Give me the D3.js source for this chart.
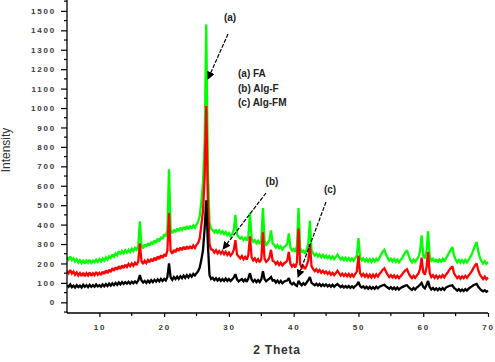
<!DOCTYPE html>
<html><head><meta charset="utf-8">
<script src="https://cdn.jsdelivr.net/npm/d3@7"></script>
<style>html,body{margin:0;padding:0;background:#fff;}svg{display:block;}</style>
</head><body>
<svg id="chart" width="495" height="362"></svg>
<script>
// 2-theta sampling grid: 5.00 .. 70.00 step 0.25
const thetaStart = 5, thetaStep = 0.25;
const xTicks = [10, 20, 30, 40, 50, 60, 70];
const yTicks = [0, 100, 200, 300, 400, 500, 600, 700, 800, 900, 1000, 1100, 1200, 1300, 1400, 1500];
const seriesNames = ["(a) FA", "(b) Alg-F", "(c) Alg-FM"];
const seriesColors = ["#00ff00", "#ff0000", "#000000"];

const FA = [
 232,220,236,218,226,210,222,205,216,202,214,200,215,204,218,203,214,206,220,208,
 222,210,226,214,231,220,236,228,246,234,251,242,262,248,264,252,268,256,270,259,
 276,264,280,270,288,417,290,278,298,286,304,292,311,298,318,306,328,314,336,325,
 350,340,372,685,368,356,374,362,380,366,384,372,388,374,392,376,394,380,396,384,
 400,415,445,520,620,820,1430,680,410,378,372,360,374,358,370,356,366,352,362,346,
 356,340,352,372,450,348,338,328,336,320,332,318,340,460,330,312,320,304,316,300,
 318,485,316,296,306,320,370,302,296,282,294,278,288,272,284,290,300,355,280,266,
 274,260,290,485,280,256,266,252,270,300,420,268,252,240,250,236,246,232,244,230,
 240,228,238,224,236,222,234,246,232,220,230,218,230,216,228,215,226,214,228,240,
 330,232,216,226,212,224,210,222,208,222,210,224,212,230,246,262,270,248,230,214,
 224,210,222,208,220,206,218,228,244,258,268,240,218,206,220,208,222,232,260,345,
 240,226,262,366,236,214,224,208,222,206,220,210,224,210,226,240,256,270,285,242,
 220,206,218,204,216,204,218,206,220,232,248,270,292,310,262,230,212,200,212,198,
 208];

const AlgF = [
 162,150,166,148,158,142,154,138,150,136,152,134,150,138,154,136,150,140,156,142,
 152,140,158,146,164,150,168,156,176,162,180,168,186,172,190,176,194,182,198,186,
 200,188,204,192,210,304,212,198,214,202,218,206,224,210,230,216,236,222,242,228,
 248,236,268,460,264,250,270,258,278,264,282,268,286,272,288,274,290,276,292,280,
 296,306,330,400,470,640,1010,520,300,272,270,256,268,252,264,250,262,248,260,244,
 256,240,250,270,320,246,236,226,238,222,234,220,244,340,232,216,226,210,222,206,
 222,360,224,208,216,230,270,214,210,196,208,192,204,190,200,206,214,260,198,184,
 194,180,206,380,196,176,186,172,190,214,300,186,172,160,170,156,166,152,162,150,
 158,146,156,142,152,140,150,162,150,138,148,136,146,134,146,132,144,132,146,158,
 240,150,136,146,132,144,130,142,128,142,130,144,132,146,156,168,175,158,142,130,
 140,128,138,126,136,124,134,144,156,164,170,150,134,124,136,126,138,148,170,230,
 156,142,176,260,150,130,140,126,138,124,136,128,140,128,142,152,166,176,185,150,
 136,124,134,122,134,124,136,126,138,148,160,176,190,200,164,142,130,120,132,118,
 128];

const AlgFM = [
 88,80,92,78,86,76,88,78,86,76,90,80,88,78,90,80,88,80,92,82,
 88,80,92,82,94,84,96,86,98,88,100,90,102,92,104,94,104,96,106,96,
 106,98,108,100,112,140,112,102,110,100,112,102,114,104,116,106,118,108,120,110,
 120,112,130,200,128,116,130,120,132,120,134,124,138,126,140,128,142,132,146,138,
 150,160,180,220,270,380,525,300,140,120,126,114,124,112,122,110,120,110,122,110,
 120,110,118,128,145,118,108,114,120,108,118,106,124,150,118,106,116,104,114,104,
 118,160,120,108,116,122,130,112,114,102,112,100,110,98,106,110,112,125,100,92,
 100,90,84,110,96,88,98,90,102,114,130,100,94,88,96,86,94,84,92,84,
 92,82,90,80,90,80,88,94,86,78,86,76,84,76,84,74,82,74,84,90,
 105,84,76,82,72,80,70,80,70,78,70,80,72,80,84,88,90,82,76,70,
 78,68,76,66,76,66,74,78,82,86,88,78,70,64,74,66,76,82,90,100,
 80,72,88,110,78,66,74,64,72,62,72,64,74,64,76,80,84,86,88,74,
 68,60,68,58,66,58,68,60,70,76,82,88,92,95,80,70,62,56,62,54,
 60];

const svg = d3.select("#chart");
const x = d3.scaleLinear().domain([5, 70]).range([67, 488]);
const y = d3.scaleLinear().domain([-55, 1556]).range([313, 0]);
const font = "'Liberation Sans', Arial, sans-serif";

const series = [FA, AlgF, AlgFM];
const line = d3.line().x((d, i) => x(thetaStart + i * thetaStep)).y(d => y(d));

svg.append("clipPath").attr("id", "clip").append("rect")
  .attr("x", 67).attr("y", 0).attr("width", 422).attr("height", 313);

const plot = svg.append("g").attr("clip-path", "url(#clip)");
series.forEach((s, k) => {
  plot.append("path").datum(s)
    .attr("fill", "none")
    .attr("stroke", seriesColors[k])
    .attr("stroke-width", 2.3)
    .attr("stroke-linejoin", "miter")
    .attr("stroke-miterlimit", 2)
    .attr("d", line);
});

// Y axis
const yAxis = d3.axisLeft(y).tickValues(yTicks).tickSize(6).tickPadding(5).tickFormat(d3.format("d"));
const gy = svg.append("g").attr("transform", "translate(67,0)").call(yAxis);
gy.select(".domain").attr("d", "M0,0V313").attr("stroke", "#000").attr("stroke-width", 1.3);
gy.selectAll(".tick line").attr("stroke", "#000").attr("stroke-width", 1.2);
gy.selectAll(".tick text").attr("font-family", font).attr("font-size", 8).attr("font-weight", "bold")
  .attr("fill", "#3a3a3a").attr("letter-spacing", "1.8px");
// minor y ticks
const yMinor = yTicks.map(v => v + 50).concat([-50]);
svg.append("g").selectAll("line").data(yMinor).join("line")
  .attr("x1", 64).attr("x2", 67).attr("y1", d => y(d)).attr("y2", d => y(d))
  .attr("stroke", "#000").attr("stroke-width", 1.2);

// X axis
const xAxis = d3.axisBottom(x).tickValues(xTicks).tickSize(4).tickPadding(7).tickFormat(d3.format("d"));
const gx = svg.append("g").attr("transform", "translate(0,313)").call(xAxis);
gx.select(".domain").attr("d", "M67,0H488").attr("stroke", "#000").attr("stroke-width", 1.3);
gx.selectAll(".tick line").attr("stroke", "#000").attr("stroke-width", 1.2);
gx.selectAll(".tick text").attr("font-family", font).attr("font-size", 8).attr("font-weight", "bold")
  .attr("fill", "#3a3a3a").attr("letter-spacing", "1.8px");
const xMinor = [15, 25, 35, 45, 55, 65];
svg.append("g").selectAll("line").data(xMinor).join("line")
  .attr("x1", d => x(d)).attr("x2", d => x(d)).attr("y1", 313).attr("y2", 316)
  .attr("stroke", "#000").attr("stroke-width", 1.2);

// Axis titles
svg.append("text").attr("x", 277).attr("y", 354).attr("text-anchor", "middle")
  .attr("font-family", font).attr("font-size", 12).attr("font-weight", "bold")
  .attr("fill", "#333").attr("letter-spacing", "0.8px").text("2 Theta");
svg.append("text").attr("transform", "translate(10,150) rotate(-90)").attr("text-anchor", "middle")
  .attr("font-family", font).attr("font-size", 12)
  .attr("fill", "#333").text("Intensity");

// Legend text
seriesNames.forEach((n, i) => {
  svg.append("text").attr("x", 238).attr("y", 77 + i * 14.5)
    .attr("font-family", font).attr("font-size", 10).attr("font-weight", "bold")
    .attr("fill", "#222").text(n);
});

// Annotation arrows
const defs = svg.append("defs");
defs.append("marker").attr("id", "arr").attr("viewBox", "0 0 10 10")
  .attr("refX", 9).attr("refY", 5).attr("markerWidth", 8).attr("markerHeight", 8)
  .attr("markerUnits", "userSpaceOnUse").attr("orient", "auto")
  .append("path").attr("d", "M0,0L10,5L0,10Z").attr("fill", "#000");

const notes = [
  {label: "(a)", lx: 230, ly: 21, x1: 228, y1: 34, x2: 208, y2: 79},
  {label: "(b)", lx: 272, ly: 185, x1: 266, y1: 193, x2: 223, y2: 249},
  {label: "(c)", lx: 330, ly: 193, x1: 326, y1: 202, x2: 298, y2: 277}
];
notes.forEach(n => {
  svg.append("text").attr("x", n.lx).attr("y", n.ly).attr("text-anchor", "middle")
    .attr("font-family", font).attr("font-size", 10).attr("font-weight", "bold")
    .attr("fill", "#222").text(n.label);
  svg.append("line").attr("x1", n.x1).attr("y1", n.y1).attr("x2", n.x2).attr("y2", n.y2)
    .attr("stroke", "#000").attr("stroke-width", 1.2).attr("stroke-dasharray", "4,1.5")
    .attr("marker-end", "url(#arr)");
});
</script>
</body></html>
